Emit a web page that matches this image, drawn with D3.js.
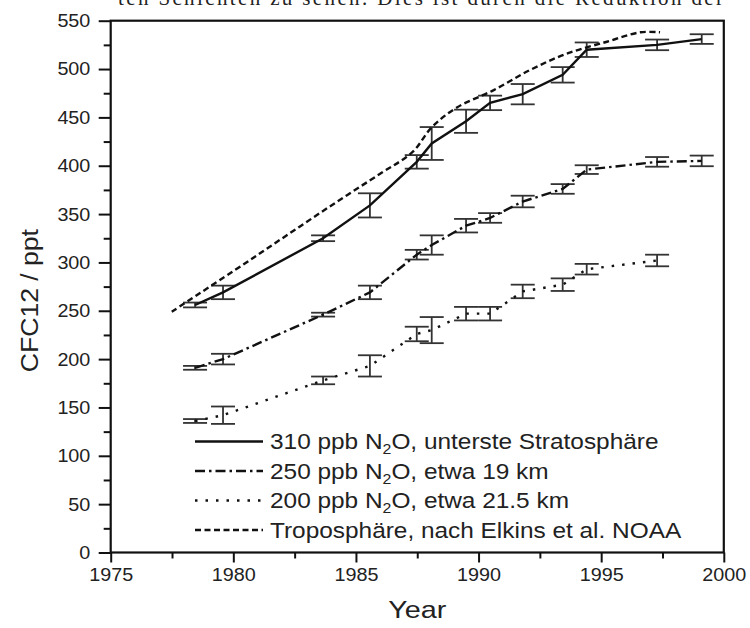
<!DOCTYPE html>
<html><head><meta charset="utf-8">
<script src="https://cdn.jsdelivr.net/npm/d3@7"></script>
<style>body{margin:0;background:#fff} svg{display:block}</style>
</head><body><svg id="c" width="750" height="628"></svg>
<script>
// ---- data ----
const years310 = [1978.44, 1979.58, 1983.66, 1985.57, 1987.48, 1988.09, 1989.49, 1990.47, 1991.80, 1993.43, 1994.41, 1997.28, 1999.10];
const values310 = [256, 269, 325, 359, 404, 423, 446, 465, 474, 494, 520, 525, 531];
const errors310 = [2.5, 7, 3, 12.5, 7, 17, 12, 7.5, 10.5, 8, 7.5, 5.5, 5];

const years250 = [1978.44, 1979.58, 1983.66, 1985.57, 1987.48, 1988.09, 1989.49, 1990.47, 1991.80, 1993.43, 1994.41, 1997.28, 1999.10];
const values250 = [191, 200, 246, 269, 308, 318, 338, 346, 363, 376, 396, 404, 405];
const errors250 = [2, 5.5, 2, 7, 5, 10, 7, 5, 6, 5, 4.5, 5, 5.5];

const years200 = [1978.44, 1979.58, 1983.66, 1985.57, 1987.48, 1988.09, 1989.49, 1990.47, 1991.80, 1993.43, 1994.41, 1997.28];
const values200 = [136, 142, 178, 193, 226, 230, 247, 247, 270, 277, 293, 302];
const errors200 = [2, 9, 4, 11, 7.5, 13.5, 7, 7, 7, 6.5, 5.5, 6];

const yearsTropo = [1977.49, 1980, 1982, 1984, 1986, 1987.3, 1988.1, 1989.1, 1990.6, 1992.1, 1993.6, 1995.2, 1996.6, 1997.4];
const valuesTropo = [249, 291, 325, 359, 392, 414, 440, 460, 478, 499, 516, 528, 538, 538];

const xTicks = [1975, 1980, 1985, 1990, 1995, 2000];
const xMinorTicks = [1977.5, 1982.5, 1987.5, 1992.5, 1997.5];
const yTicks = [0, 50, 100, 150, 200, 250, 300, 350, 400, 450, 500, 550];
const yMinorTicks = [25, 75, 125, 175, 225, 275, 325, 375, 425, 475, 525];

const legendLabels = ["310 ppb N|2|O, unterste Stratosphäre", "250 ppb N|2|O, etwa 19 km", "200 ppb N|2|O, etwa 21.5 km", "Troposphäre, nach Elkins et al. NOAA"];
const topText = "ten Schichten zu sehen. Dies ist durch die Reduktion der";

// ---- chart ----
const svg = d3.select("#c");
const font = "Liberation Sans, Arial, sans-serif";
const x = d3.scaleLinear().domain([1975, 2000]).range([110.7, 723.8]);
const y = d3.scaleLinear().domain([0, 550]).range([552.5, 20.7]);

svg.append("text").attr("x", 118).attr("y", 5).attr("textLength", 605).attr("lengthAdjust", "spacing")
  .attr("font-family", "Liberation Serif, Times New Roman, serif").attr("font-size", 21).attr("fill", "#222").text(topText);

// axes
const gx = svg.append("g").attr("transform", `translate(0,${y(0)})`)
  .call(d3.axisBottom(x).tickValues(xTicks).tickSize(10).tickPadding(5).tickFormat(d3.format("d")));
const gxm = svg.append("g").attr("transform", `translate(0,${y(0)})`)
  .call(d3.axisBottom(x).tickValues(xMinorTicks).tickSize(6).tickFormat(""));
const gy = svg.append("g").attr("transform", `translate(${x(1975)},0)`)
  .call(d3.axisLeft(y).tickValues(yTicks).tickSize(12).tickPadding(7));
const gym = svg.append("g").attr("transform", `translate(${x(1975)},0)`)
  .call(d3.axisLeft(y).tickValues(yMinorTicks).tickSize(7).tickFormat(""));
[gx, gxm, gy, gym].forEach(g => {
  g.select(".domain").remove();
  g.selectAll("line").attr("stroke", "#111").attr("stroke-width", 2);
  g.selectAll("text").attr("font-family", font).attr("font-size", 18.5).attr("fill", "#222")
    .attr("transform", "scale(1.07,1)");
});

// frame
svg.append("rect").attr("x", x(1975)).attr("y", y(550)).attr("width", x(2000) - x(1975)).attr("height", y(0) - y(550))
  .attr("fill", "none").attr("stroke", "#111").attr("stroke-width", 2.2);

// axis titles
svg.append("text").attr("transform", `translate(${(x(1975) + x(2000)) / 2},618) scale(1.2,1)`).attr("text-anchor", "middle")
  .attr("font-family", font).attr("font-size", 24).attr("fill", "#222").text("Year");
svg.append("text").attr("transform", `translate(38,${(y(0) + y(550)) / 2 + 14}) rotate(-90) scale(1.13,1)`).attr("text-anchor", "middle")
  .attr("font-family", font).attr("font-size", 23.5).attr("fill", "#222").text("CFC12 / ppt");

// series
const series = [
  {yr: years310, v: values310, e: errors310, dash: null, curve: d3.curveLinear},
  {yr: years250, v: values250, e: errors250, dash: "10,4,2.5,4", curve: d3.curveLinear},
  {yr: years200, v: values200, e: errors200, dash: "2.5,8", curve: d3.curveLinear},
  {yr: yearsTropo, v: valuesTropo, e: null, dash: "6,3.5", curve: d3.curveCatmullRom.alpha(0.5)}
];
const cap = 12;
series.forEach(s => {
  const pts = s.yr.map((t, i) => [t, s.v[i], s.e ? s.e[i] : 0]);
  if (s.e) {
    const g = svg.append("g").attr("stroke", "#333").attr("stroke-width", 1.8);
    pts.forEach(p => {
      g.append("line").attr("x1", x(p[0])).attr("x2", x(p[0])).attr("y1", y(p[1] - p[2])).attr("y2", y(p[1] + p[2]));
      g.append("line").attr("x1", x(p[0]) - cap).attr("x2", x(p[0]) + cap).attr("y1", y(p[1] - p[2])).attr("y2", y(p[1] - p[2]));
      g.append("line").attr("x1", x(p[0]) - cap).attr("x2", x(p[0]) + cap).attr("y1", y(p[1] + p[2])).attr("y2", y(p[1] + p[2]));
    });
  }
  const line = d3.line().x(d => x(d[0])).y(d => y(d[1])).curve(s.curve);
  svg.append("path").datum(pts).attr("d", line).attr("fill", "none").attr("stroke", "#111")
    .attr("stroke-width", 2.4).attr("stroke-dasharray", s.dash);
});

// legend
const legY0 = 441.5, legDy = 29.5;
legendLabels.forEach((lab, i) => {
  const ly = legY0 + i * legDy;
  svg.append("line").attr("x1", 195).attr("x2", 263).attr("y1", ly).attr("y2", ly)
    .attr("stroke", "#111").attr("stroke-width", 2.4).attr("stroke-dasharray", series[i].dash);
  const t = svg.append("text").attr("transform", `translate(270,${ly + 7.5}) scale(1.135,1)`).attr("font-family", font)
    .attr("font-size", 21.5).attr("fill", "#222");
  const parts = lab.split("|");
  parts.forEach((p, k) => {
    const ts = t.append("tspan").text(p);
    if (k === 1) ts.attr("font-size", 14).attr("dy", 5);
    if (k === 2) ts.attr("dy", -5);
  });
});
</script></body></html>
